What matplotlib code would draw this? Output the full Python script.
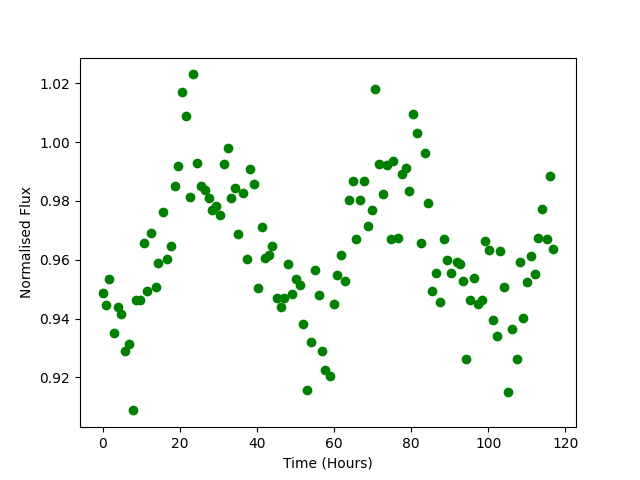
import numpy as np
import matplotlib
matplotlib.use("Agg")
import matplotlib.pyplot as plt

time_hours = [
    0.0, 0.78, 1.74, 2.86, 3.9, 4.7, 5.7, 6.75, 7.8, 8.75,
    9.7, 10.65, 11.6, 12.6, 13.9, 14.5, 15.6, 16.6, 17.7, 18.7,
    19.5, 20.5, 21.6, 22.6, 23.4, 24.4, 25.5, 26.5, 27.5, 28.3,
    29.5, 30.4, 31.4, 32.5, 33.2, 34.3, 35.2, 36.4, 37.4, 38.1,
    39.2, 40.2, 41.3, 42.0, 43.2, 43.9, 45.3, 46.2, 47.0, 48.1,
    49.1, 50.1, 51.1, 51.9, 52.9, 54.0, 55.0, 56.0, 56.9, 57.8,
    58.9, 59.9, 60.8, 61.8, 62.9, 63.9, 64.9, 65.6, 66.8, 67.8,
    68.8, 69.9, 70.6, 71.6, 72.7, 73.8, 74.7, 75.3, 76.7, 77.7,
    78.7, 79.5, 80.5, 81.6, 82.6, 83.6, 84.4, 85.5, 86.5, 87.5,
    88.6, 89.4, 90.4, 91.8, 92.7, 93.5, 94.3, 95.2, 96.4, 97.4,
    98.4, 99.2, 100.3, 101.3, 102.3, 103.1, 104.2, 105.2, 106.1, 107.5,
    108.1, 109.1, 110.1, 111.2, 112.2, 113.0, 114.0, 115.1, 116.1, 116.9,
]

flux = [
    0.9488, 0.9447, 0.9536, 0.9352, 0.9440, 0.9417, 0.9291, 0.9312, 0.9088, 0.9464,
    0.9464, 0.9656, 0.9495, 0.9692, 0.9508, 0.9590, 0.9764, 0.9604, 0.9646, 0.9852,
    0.9919, 1.0170, 1.0090, 0.9815, 1.0230, 0.9930, 0.9852, 0.9838, 0.9809, 0.9770,
    0.9784, 0.9753, 0.9927, 0.9981, 0.9809, 0.9843, 0.9686, 0.9828, 0.9604, 0.9910,
    0.9859, 0.9505, 0.9713, 0.9607, 0.9615, 0.9648, 0.9470, 0.9440, 0.9471, 0.9587,
    0.9485, 0.9533, 0.9515, 0.9383, 0.9158, 0.9321, 0.9566, 0.9481, 0.9291, 0.9227,
    0.9206, 0.9451, 0.9547, 0.9617, 0.9527, 0.9804, 0.9869, 0.9672, 0.9804, 0.9866,
    0.9716, 0.9770, 1.0179, 0.9927, 0.9825, 0.9923, 0.9672, 0.9935, 0.9675, 0.9893,
    0.9913, 0.9832, 1.0097, 1.0032, 0.9658, 0.9964, 0.9794, 0.9495, 0.9556, 0.9457,
    0.9672, 0.9600, 0.9556, 0.9594, 0.9587, 0.9529, 0.9264, 0.9462, 0.9539, 0.9451,
    0.9462, 0.9665, 0.9634, 0.9396, 0.9342, 0.9631, 0.9508, 0.9151, 0.9366, 0.9262,
    0.9591, 0.9403, 0.9526, 0.9614, 0.9553, 0.9675, 0.9774, 0.9672, 0.9886, 0.9638,
]

fig = plt.figure(figsize=(6.4, 4.8), dpi=100)
plt.plot(time_hours, flux, 'go')
plt.xlabel("Time (Hours)")
plt.ylabel("Normalised Flux")
plt.savefig("out.png")
